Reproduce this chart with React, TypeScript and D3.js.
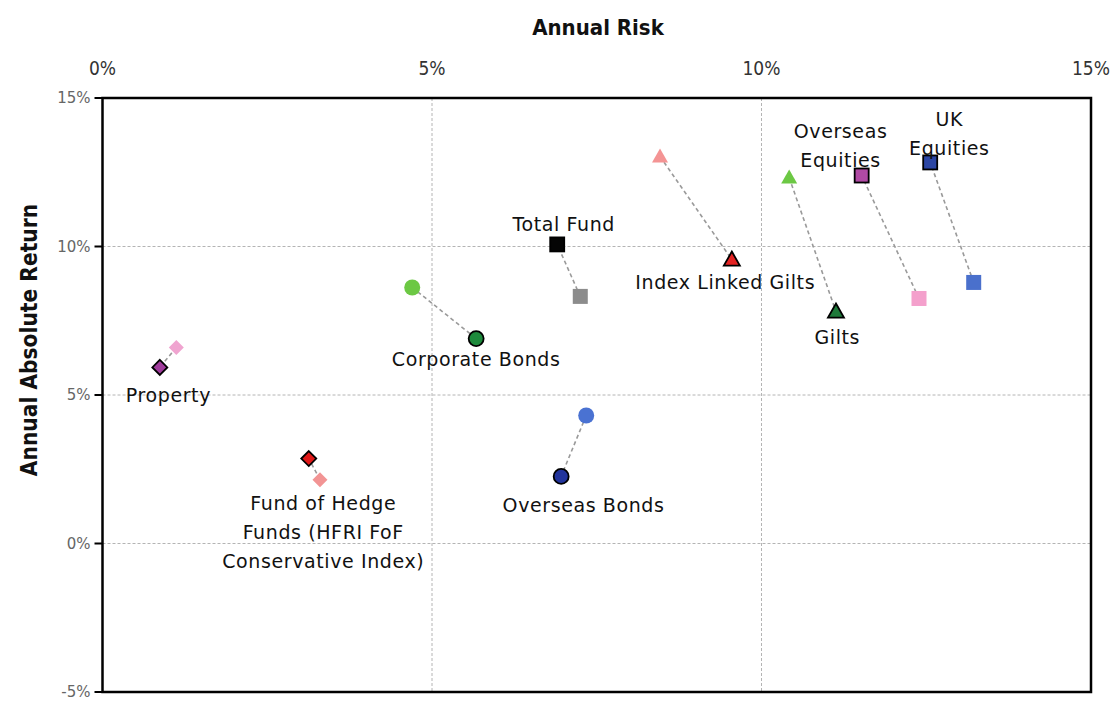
import React from "react";
import * as d3 from "d3";

const assets = ["Property", "Fund of Hedge Funds", "Corporate Bonds", "Total Fund", "Overseas Bonds", "Index Linked Gilts", "Gilts", "Overseas Equities", "UK Equities"];
const shapes = ["diamond", "diamond", "circle", "square", "circle", "triangle", "triangle", "square", "square"];
const riskDark = [0.87, 3.13, 5.67, 6.9, 6.96, 9.55, 11.13, 11.52, 12.56];
const returnDark = [5.93, 2.86, 6.9, 10.07, 2.26, 9.56, 7.81, 12.39, 12.83];
const riskLight = [1.12, 3.3, 4.7, 7.25, 7.34, 8.46, 10.42, 12.39, 13.22];
const returnLight = [6.6, 2.15, 8.62, 8.32, 4.31, 13.03, 12.32, 8.25, 8.79];
const colorDark = ["#a03c9c", "#e01818", "#1e8a3c", "#050505", "#22349c", "#e42424", "#1e7a3a", "#b04aa4", "#2c46a4"];
const colorLight = ["#f0a4d0", "#f29494", "#6cc844", "#8c8c8c", "#4a72d2", "#f49494", "#6cc844", "#f4a0cc", "#4a70cc"];
const labelLines = [
  ["Property"],
  ["Fund of Hedge", "Funds (HFRI FoF", "Conservative Index)"],
  ["Corporate Bonds"],
  ["Total Fund"],
  ["Overseas Bonds"],
  ["Index Linked Gilts"],
  ["Gilts"],
  ["Overseas", "Equities"],
  ["UK", "Equities"],
];
const labelRisk = [1.0, 3.35, 5.67, 7.0, 7.3, 9.45, 11.15, 11.2, 12.85];
const labelReturn = [5.0, 1.35, 6.2, 10.75, 1.3, 8.8, 6.95, 13.89, 14.29];
const xTicks = [0, 5, 10, 15];
const yTicks = [-5, 0, 5, 10, 15];

const W = 1116, H = 702;
const M = { left: 102.5, right: 1091, top: 98, bottom: 692 };

function marker(shape: string, cx: number, cy: number, fill: string, dark: boolean, key: string) {
  const stroke = dark ? "#000" : "none";
  const sw = dark ? 1.8 : 0;
  if (shape === "circle") return <circle key={key} cx={cx} cy={cy} r={dark ? 7.5 : 8} fill={fill} stroke={stroke} strokeWidth={sw} />;
  if (shape === "square") {
    const s = dark ? 14 : 15;
    return <rect key={key} x={cx - s / 2} y={cy - s / 2} width={s} height={s} fill={fill} stroke={stroke} strokeWidth={sw} />;
  }
  if (shape === "triangle") {
    const w = 16, h = 14;
    return <path key={key} d={`M${cx},${cy - h / 2 - 1}L${cx + w / 2},${cy + h / 2 - 1}L${cx - w / 2},${cy + h / 2 - 1}Z`} fill={fill} stroke={stroke} strokeWidth={sw} />;
  }
  const r = 7.5;
  return <path key={key} d={`M${cx},${cy - r}L${cx + r},${cy}L${cx},${cy + r}L${cx - r},${cy}Z`} fill={fill} stroke={stroke} strokeWidth={sw} />;
}

export default function App() {
  const x = d3.scaleLinear().domain([0, 15]).range([M.left, M.right]);
  const y = d3.scaleLinear().domain([-5, 15]).range([M.bottom, M.top]);
  const labelFont = "'DejaVu Sans', Verdana, sans-serif";
  const titleFont = "'DejaVu Sans Condensed', 'DejaVu Sans', sans-serif";
  return (
    <svg width={W} height={H} style={{ position: "absolute", left: 0, top: 0, background: "#fff" }}>
      <rect x={0} y={0} width={W} height={H} fill="#fff" />
      {xTicks.filter(t => t > 0 && t < 15).map(t => (
        <line key={"gx" + t} x1={x(t)} x2={x(t)} y1={M.top} y2={M.bottom} stroke="#b4b4b4" strokeWidth={1} strokeDasharray="3,2" />
      ))}
      {yTicks.filter(t => t > -5 && t < 15).map(t => (
        <line key={"gy" + t} x1={M.left} x2={M.right} y1={y(t)} y2={y(t)} stroke="#b4b4b4" strokeWidth={1} strokeDasharray="3,2" />
      ))}
      <rect x={M.left} y={M.top} width={M.right - M.left} height={M.bottom - M.top} fill="none" stroke="#000" strokeWidth={2.5} />
      {yTicks.map(t => (
        <g key={"yt" + t}>
          <line x1={M.left - 8} x2={M.left} y1={y(t)} y2={y(t)} stroke="#000" strokeWidth={2} />
          <text x={M.left - 12} y={y(t)} dy="0.35em" textAnchor="end" fontFamily={labelFont} fontSize={15} fill="#666">{t}%</text>
        </g>
      ))}
      {xTicks.map(t => (
        <text key={"xt" + t} x={x(t)} y={75} textAnchor="middle" fontFamily={titleFont} fontSize={19} fill="#333">{t}%</text>
      ))}
      <text x={598} y={35} textAnchor="middle" fontFamily={titleFont} fontWeight="bold" fontSize={22} fill="#111">Annual Risk</text>
      <text transform={`translate(37,340) rotate(-90)`} textAnchor="middle" fontFamily={titleFont} fontWeight="bold" fontSize={22.5} fill="#111">Annual Absolute Return</text>
      {assets.map((a, i) => (
        <line key={"c" + i} x1={x(riskLight[i])} y1={y(returnLight[i])} x2={x(riskDark[i])} y2={y(returnDark[i])} stroke="#9a9a9a" strokeWidth={1.6} strokeDasharray="4,3" />
      ))}
      {assets.map((a, i) => marker(shapes[i], x(riskLight[i]), y(returnLight[i]), colorLight[i], false, "l" + i))}
      {assets.map((a, i) => marker(shapes[i], x(riskDark[i]), y(returnDark[i]), colorDark[i], true, "d" + i))}
      {assets.map((a, i) => (
        <text key={"t" + i} x={x(labelRisk[i])} y={y(labelReturn[i])} textAnchor="middle" fontFamily={labelFont} fontSize={19} letterSpacing={0.6} fill="#111">
          {labelLines[i].map((ln, j) => (
            <tspan key={j} x={x(labelRisk[i])} dy={j === 0 ? "0.35em" : 29}>{ln}</tspan>
          ))}
        </text>
      ))}
    </svg>
  );
}
